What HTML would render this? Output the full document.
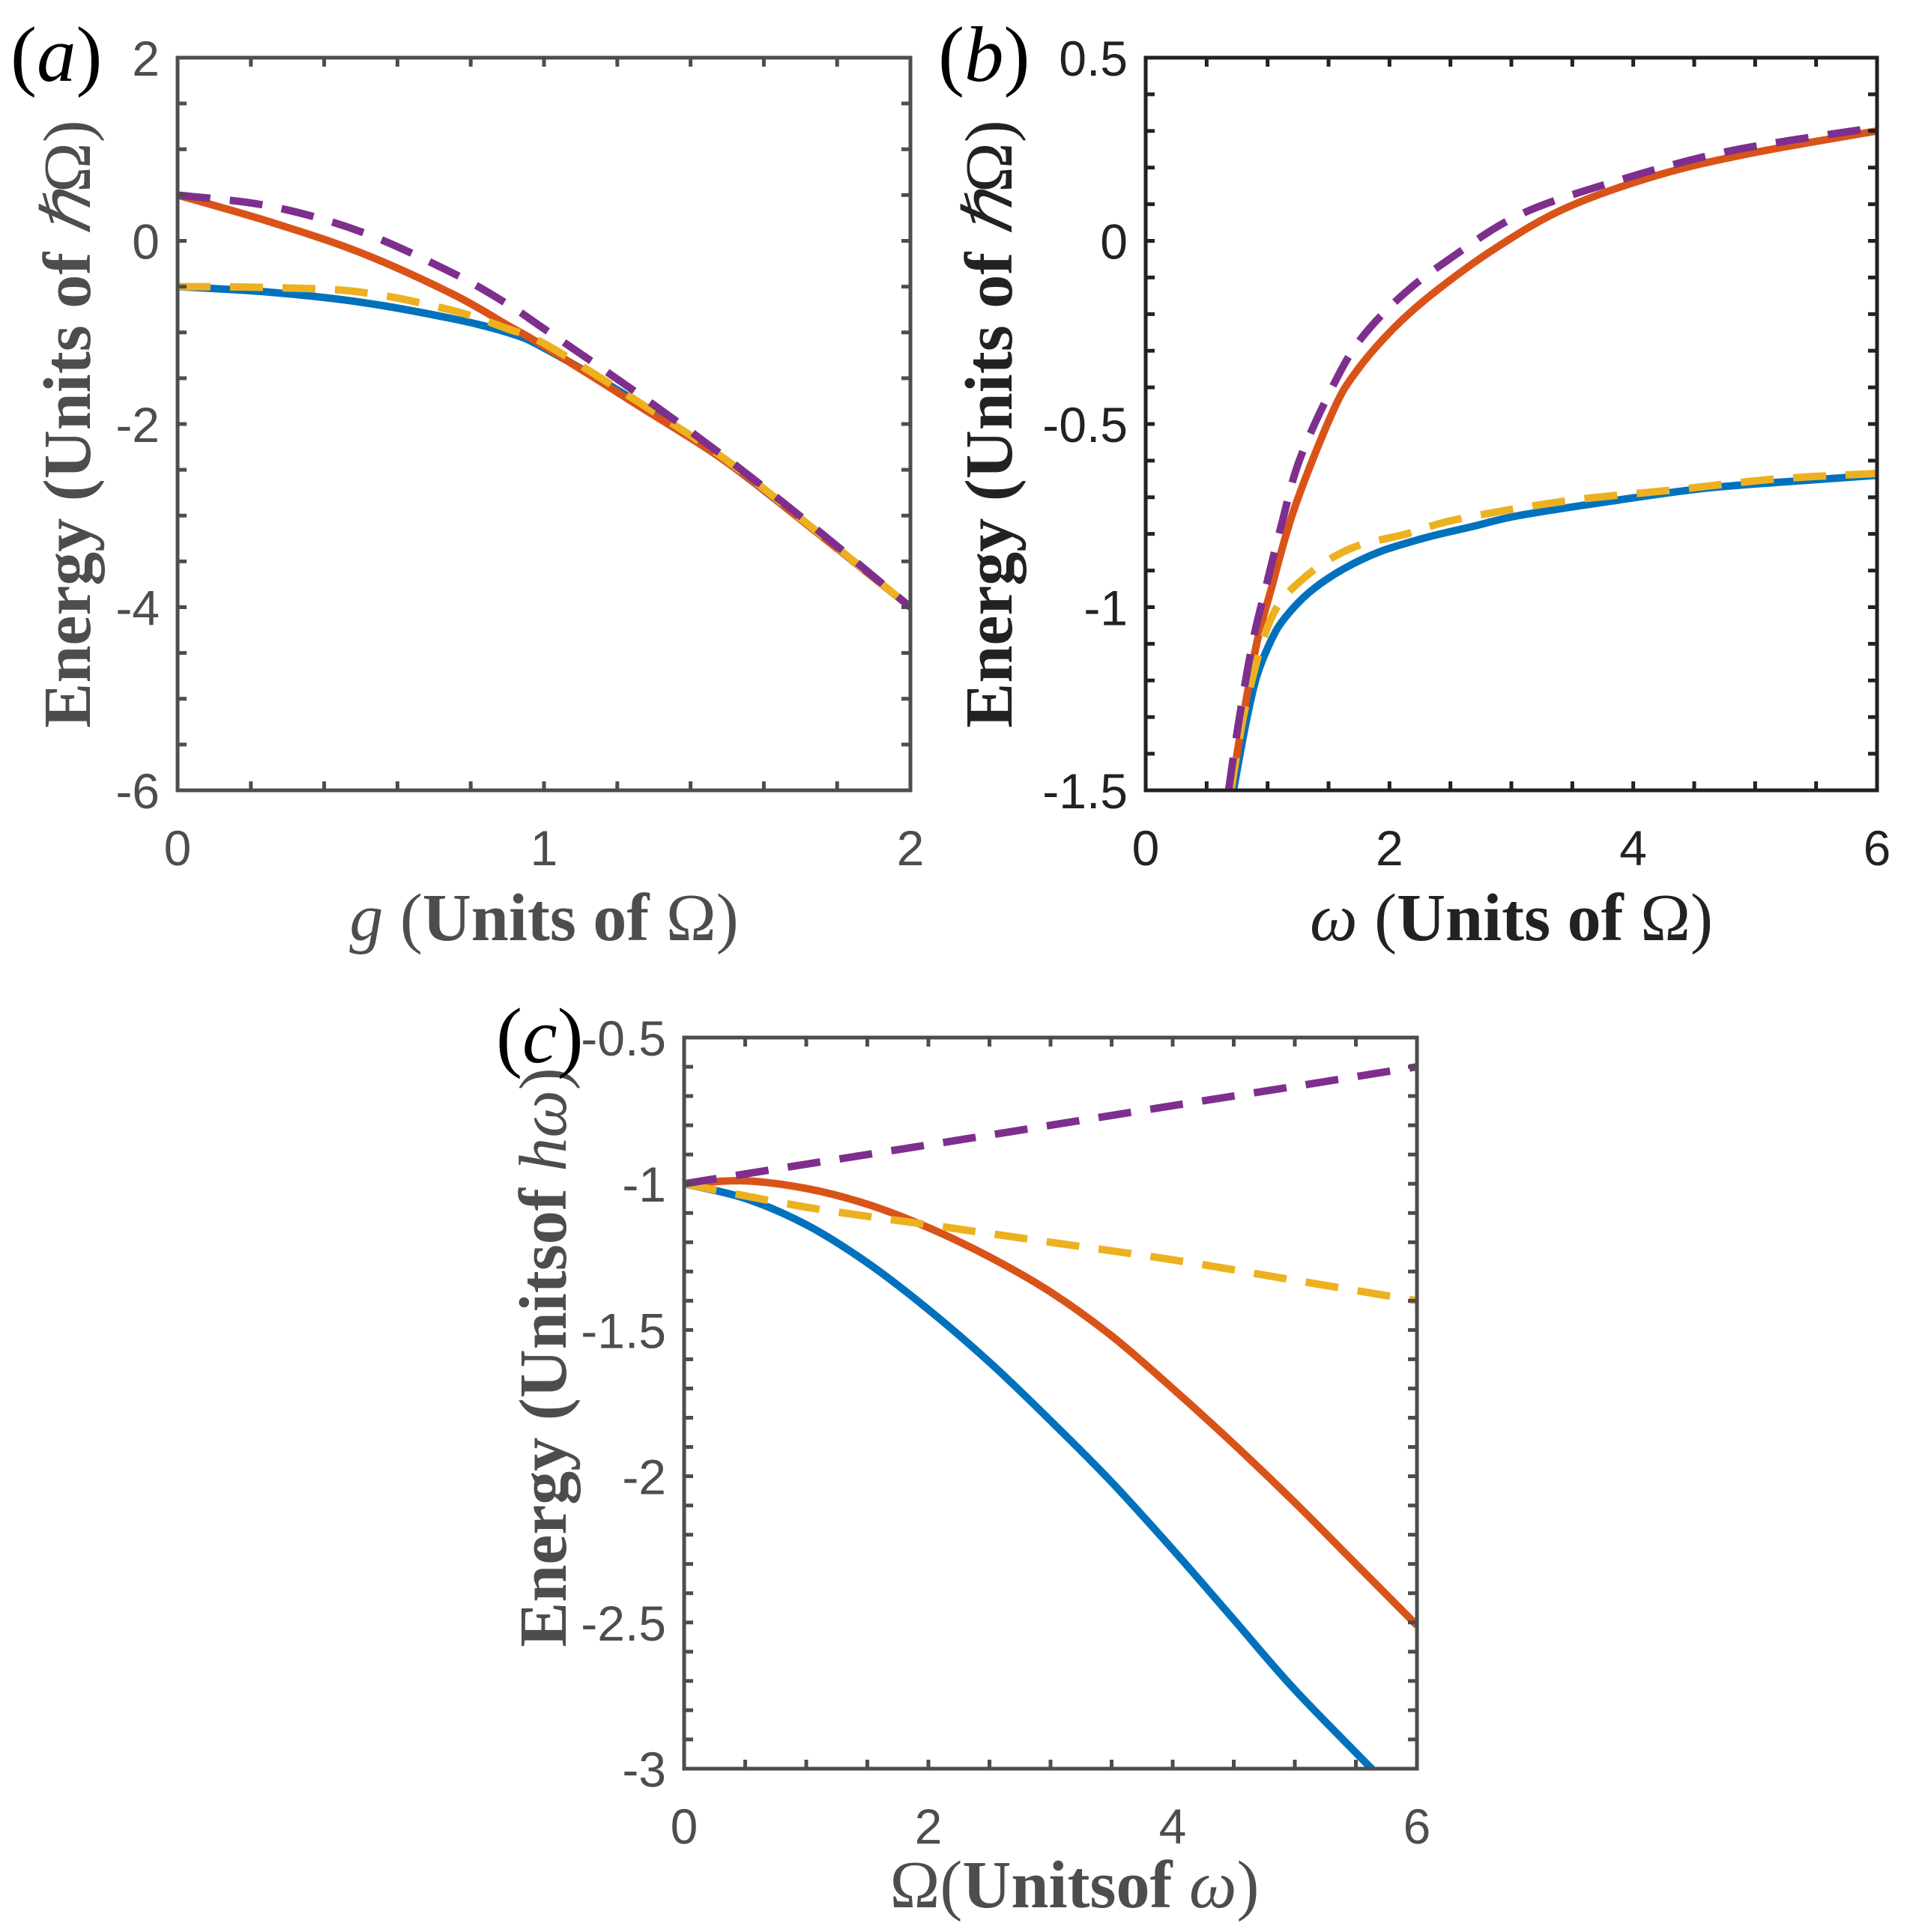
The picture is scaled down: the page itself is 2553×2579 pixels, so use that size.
<!DOCTYPE html>
<html><head><meta charset="utf-8"><style>
html,body{margin:0;padding:0;background:#fff}
svg{display:block}
</style></head><body>
<svg id="fig" width="2553" height="2579" viewBox="0 0 2553 2579" xmlns="http://www.w3.org/2000/svg"></svg>
<script>
// ---- Panel (a) data ----
const aX=[0,0.25,0.5,0.75,0.9,1,1.25,1.5,1.75,2];
const aBlue=[-0.5,-0.56,-0.67,-0.85,-1.0,-1.17,-1.75,-2.42,-3.2,-4];
const aOrange=[0.5,0.21,-0.13,-0.58,-0.92,-1.15,-1.78,-2.42,-3.2,-4];
const aPurple=[0.5,0.38,0.1,-0.35,-0.69,-0.96,-1.65,-2.38,-3.17,-4];
const aYellow=[-0.5,-0.51,-0.56,-0.76,-0.96,-1.12,-1.74,-2.4,-3.19,-4];
const aXTicks=[0,1,2], aYTicks=[2,0,-2,-4,-6];
// ---- Panel (b) data ----
const bXo=[0.70,0.80,0.91,1.03,1.22,1.53,1.72,2.03,2.37,2.87,3.45,4.21,4.98,6];
const bOrange=[-1.5,-1.30,-1.10,-0.95,-0.73,-0.47,-0.36,-0.24,-0.14,-0.02,0.09,0.18,0.24,0.30];
const bXp=[0.68,0.76,0.875,0.99,1.11,1.26,1.53,1.76,2.10,2.49,3.06,3.83,4.79,6];
const bPurple=[-1.5,-1.32,-1.10,-0.94,-0.78,-0.60,-0.40,-0.27,-0.15,-0.05,0.07,0.16,0.245,0.31];
const bXb=[0.72,0.82,0.91,1.03,1.14,1.34,1.60,1.91,2.30,2.68,3.06,3.83,4.60,5.37,6];
const bBlue=[-1.5,-1.32,-1.19,-1.09,-1.03,-0.96,-0.90,-0.85,-0.81,-0.78,-0.75,-0.71,-0.675,-0.655,-0.64];
const bXy=[0.70,0.82,1.03,1.30,1.68,2.14,2.56,3.45,4.33,5.17,6];
const bYellow=[-1.5,-1.27,-1.03,-0.92,-0.84,-0.80,-0.76,-0.71,-0.68,-0.65,-0.635];
const bXTicks=[0,2,4,6], bYTicks=[0.5,0,-0.5,-1,-1.5];
// ---- Panel (c) data ----
const cX=[0,0.5,1,1.5,2,2.5,3,3.5,4,4.5,5,5.5,6];
const cOrange=[-1,-0.99,-1.016,-1.07,-1.15,-1.25,-1.37,-1.52,-1.70,-1.89,-2.09,-2.30,-2.51];
const cXb=[0,0.5,1,1.5,2,2.5,3,3.5,4,4.5,5,5.7];
const cBlue=[-1,-1.05,-1.14,-1.27,-1.43,-1.61,-1.81,-2.02,-2.25,-2.49,-2.73,-3.03];
const cXd=[0,1,2,3,4,5,6];
const cPurple=[-1,-0.933,-0.867,-0.8,-0.733,-0.667,-0.6];
const cYellow=[-1,-1.08,-1.14,-1.2,-1.26,-1.33,-1.40];
const cXTicks=[0,2,4,6], cYTicks=[-0.5,-1,-1.5,-2,-2.5,-3];

const NS='http://www.w3.org/2000/svg';
const svg=document.getElementById('fig');
function mk(tag,attrs,parent){const e=document.createElementNS(NS,tag);for(const k in attrs)e.setAttribute(k,attrs[k]);(parent||svg).appendChild(e);return e;}
const C={blue:'#0072BD',orange:'#D95319',yellow:'#EDB120',purple:'#7E2F8E'};

function spline(pts){
  let d='M'+pts[0][0]+','+pts[0][1];
  for(let i=0;i<pts.length-1;i++){
    const p0=pts[Math.max(0,i-1)],p1=pts[i],p2=pts[i+1],p3=pts[Math.min(pts.length-1,i+2)];
    const c1=[p1[0]+(p2[0]-p0[0])/6,p1[1]+(p2[1]-p0[1])/6];
    const c2=[p2[0]-(p3[0]-p1[0])/6,p2[1]-(p3[1]-p1[1])/6];
    d+=' C'+c1[0]+','+c1[1]+' '+c2[0]+','+c2[1]+' '+p2[0]+','+p2[1];
  }
  return d;
}

function panel(o){
  const g=mk('g',{});
  
  
  const sx=v=>o.x0+(v-o.xmin)/(o.xmax-o.xmin)*(o.x1-o.x0);
  const sy=v=>o.y1-(v-o.ymin)/(o.ymax-o.ymin)*(o.y1-o.y0);
  const clip='clip-'+o.name;
  const cp=mk('clipPath',{id:clip},g);
  mk('rect',{x:o.x0,y:o.y0,width:o.x1-o.x0,height:o.y1-o.y0},cp);
  o.series.forEach(s=>{
    const pts=s.x.map((xv,i)=>[sx(xv),sy(s.y[i])]);
    const p=mk('path',{d:spline(pts),fill:'none',stroke:s.color,'stroke-width':10,'clip-path':'url(#'+clip+')','stroke-dasharray':s.dash?'44 26':'none'},g);
    
    
  });
  const tl=12, tw=5;
  for(let v=o.xmin;v<=o.xmax+1e-9;v+=o.xminor){
    const X=sx(v);
    mk('line',{x1:X,y1:o.y1,x2:X,y2:o.y1-tl,stroke:o.axis,'stroke-width':tw},g);
    mk('line',{x1:X,y1:o.y0,x2:X,y2:o.y0+tl,stroke:o.axis,'stroke-width':tw},g);
  }
  for(let v=o.ymin;v<=o.ymax+1e-9;v+=o.yminor){
    const Y=sy(v);
    mk('line',{x1:o.x0,y1:Y,x2:o.x0+tl,y2:Y,stroke:o.axis,'stroke-width':tw},g);
    mk('line',{x1:o.x1,y1:Y,x2:o.x1-tl,y2:Y,stroke:o.axis,'stroke-width':tw},g);
  }
  const fr=mk('rect',{x:o.x0,y:o.y0,width:o.x1-o.x0,height:o.y1-o.y0,fill:'none',stroke:o.axis,'stroke-width':5},g);
  
  
  o.xticks.forEach(v=>{
    const t=mk('text',{x:sx(v),y:o.y1+100,'text-anchor':'middle','font-family':'Liberation Sans, sans-serif','font-size':66,fill:o.text},g);
    t.textContent=String(v);
    
    
  });
  o.yticks.forEach(v=>{
    const t=mk('text',{x:o.x0-24,y:sy(v)+24,'text-anchor':'end','font-family':'Liberation Sans, sans-serif','font-size':66,fill:o.text},g);
    t.textContent=String(v);
    
    
  });
  const xl=mk('text',{x:o.xlx,y:o.y1+o.xly,'text-anchor':'middle','font-family':'Liberation Serif, serif','font-size':90,fill:o.text},g);
  xl.innerHTML=o.xlabel;
  
  
  const cy=o.ylcy;
  const yl=mk('text',{x:o.ylx,y:cy,'text-anchor':'middle','font-family':'Liberation Serif, serif','font-size':90,fill:o.text,transform:'rotate(-90 '+o.ylx+' '+cy+')'},g);
  yl.innerHTML=o.ylabel;
  
  
  const pl=mk('text',{x:o.plx,y:o.ply,'font-family':'Liberation Serif, serif','font-size':105,fill:'#000'},g);
  pl.innerHTML=o.plabel;
  
  
}

panel({name:'panel-a',x0:237,x1:1215,y0:77,y1:1055,xmin:0,xmax:2,ymin:-6,ymax:2,xminor:0.2,yminor:0.5,
  axis:'#4d4d4d',text:'#4d4d4d',xticks:aXTicks,yticks:aYTicks,xlx:726,xly:200,ylx:120,ylcy:566,plx:14,ply:108,
  plabel:'(<tspan font-style="italic">a</tspan>)',
  xlabel:'<tspan font-style="italic">g</tspan> (<tspan font-weight="bold">Units of</tspan> Ω)',
  ylabel:'<tspan font-weight="bold">Energy (Units of </tspan><tspan font-style="italic">ℏ</tspan>Ω)',
  series:[{name:'a-blue-line',x:aX,y:aBlue,color:C.blue},{name:'a-orange-line',x:aX,y:aOrange,color:C.orange},
    {name:'a-yellow-dash',x:aX,y:aYellow,color:C.yellow,dash:1},{name:'a-purple-dash',x:aX,y:aPurple,color:C.purple,dash:1}]});

panel({name:'panel-b',x0:1529,x1:2505,y0:77,y1:1055,xmin:0,xmax:6,ymin:-1.5,ymax:0.5,xminor:0.5,yminor:0.1,
  axis:'#222',text:'#222',xticks:bXTicks,yticks:bYTicks,xlx:2017,xly:200,ylx:1350,ylcy:566,plx:1252,ply:108,
  plabel:'(<tspan font-style="italic">b</tspan>)',
  xlabel:'<tspan font-style="italic">ω</tspan> (<tspan font-weight="bold">Units of</tspan> Ω)',
  ylabel:'<tspan font-weight="bold">Energy (Units of </tspan><tspan font-style="italic">ℏ</tspan>Ω)',
  series:[{name:'b-blue-line',x:bXb,y:bBlue,color:C.blue},{name:'b-orange-line',x:bXo,y:bOrange,color:C.orange},
    {name:'b-yellow-dash',x:bXy,y:bYellow,color:C.yellow,dash:1},{name:'b-purple-dash',x:bXp,y:bPurple,color:C.purple,dash:1}]});

panel({name:'panel-c',x0:913,x1:1891,y0:1385,y1:2361,xmin:0,xmax:6,ymin:-3,ymax:-0.5,xminor:0.5,yminor:0.1,
  axis:'#4d4d4d',text:'#4d4d4d',xticks:cXTicks,yticks:cYTicks,xlx:1434,xly:185,ylx:755,ylcy:1812,plx:662,ply:1418,
  plabel:'(<tspan font-style="italic">c</tspan>)',
  xlabel:'Ω(<tspan font-weight="bold">Unitsof</tspan> <tspan font-style="italic">ω</tspan>)',
  ylabel:'<tspan font-weight="bold">Energy (Unitsof </tspan><tspan font-style="italic">hω</tspan>)',
  series:[{name:'c-blue-line',x:cXb,y:cBlue,color:C.blue},{name:'c-orange-line',x:cX,y:cOrange,color:C.orange},
    {name:'c-yellow-dash',x:cXd,y:cYellow,color:C.yellow,dash:1},{name:'c-purple-dash',x:cXd,y:cPurple,color:C.purple,dash:1}]});
</script>
</body></html>
